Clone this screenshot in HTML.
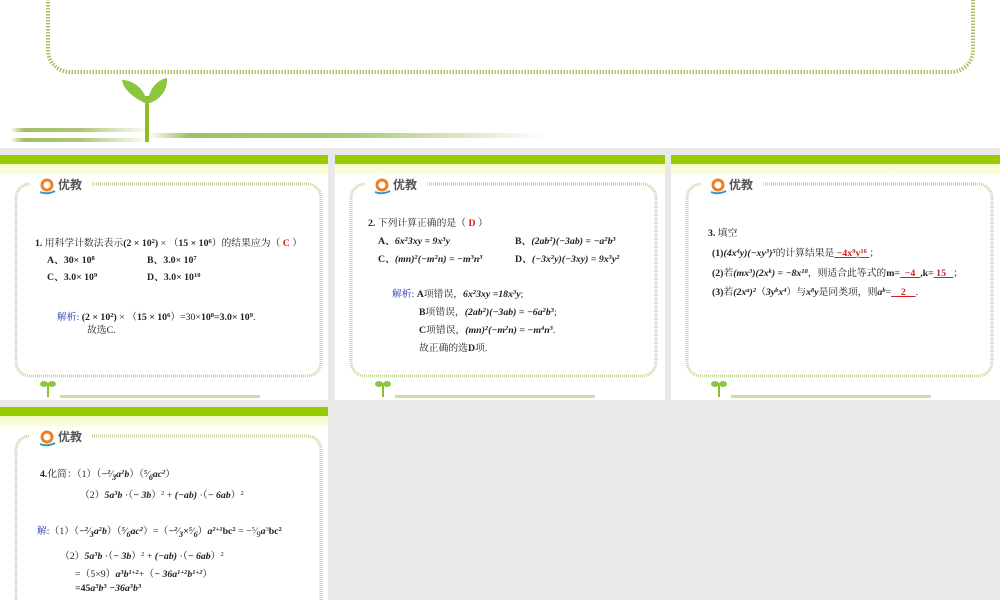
<!DOCTYPE html>
<html><head><meta charset="utf-8"><style>
*{margin:0;padding:0;box-sizing:border-box}
body{width:1000px;height:600px;background:#e9e9e9;position:relative;overflow:hidden;font-family:"Liberation Serif","Noto Serif CJK SC",serif;font-size:9.8px;color:#222}
.a{position:absolute;white-space:nowrap}
.p{position:absolute;background:#fff;overflow:hidden}
.g{position:absolute;left:0;right:0;top:0;height:9px;background:#99cc00}
.y{position:absolute;left:0;right:0;top:9px;height:11px;background:linear-gradient(#f4fbc8,#fbfde6)}
b{font-weight:bold}
i{font-style:italic;font-weight:bold}
.r{color:#d02020;font-weight:bold}
.bl{color:#2233aa}
.u{text-decoration:underline;color:#d02020;font-weight:bold}
sup{font-size:6.5px;vertical-align:3px;line-height:0}
.logo{position:absolute;font-family:"Noto Sans CJK SC",sans-serif;font-size:12px;color:#555;font-weight:bold}
</style></head><body>
<div class="p" style="left:0;top:0;width:1000px;height:148px;">
<svg width="1000" height="148" style="position:absolute;left:0;top:0">
<defs><linearGradient id="lg" x1="0" x2="1"><stop offset="0" stop-color="#8ab040" stop-opacity="0"/><stop offset="0.1" stop-color="#8ab040" stop-opacity="0.8"/><stop offset="0.5" stop-color="#8ab040" stop-opacity="0.7"/><stop offset="1" stop-color="#8ab040" stop-opacity="0"/></linearGradient></defs>
<rect x="48" y="-40" width="925" height="112" rx="22" fill="none" stroke="#a8c060" stroke-width="4" stroke-dasharray="1.5 1.5"/>
<rect x="10" y="128" width="140" height="4" fill="url(#lg)"/>
<rect x="10" y="138" width="140" height="4" fill="url(#lg)"/>
<rect x="148" y="133" width="400" height="5" fill="url(#lg)"/>
<rect x="145" y="96" width="4" height="46" fill="#8cbf26"/>
<path d="M147 104 C138 100 124 92 122 80 C134 80 146 90 147 104Z" fill="#8cc63e"/>
<path d="M147 104 C149 90 156 80 167 78 C168 92 158 101 147 104Z" fill="#8cc63e"/>
</svg></div>

<div class="p" style="left:0;top:155px;width:328px;height:245px">
<div class="g"></div><div class="y"></div>
<svg width="328" height="245" style="position:absolute;left:0;top:0"><rect x="16" y="29" width="305" height="192" rx="14" fill="none" stroke="#c7d59a" stroke-width="3" stroke-dasharray="1 1"/><rect x="30" y="22" width="62" height="14" fill="#fff"/><circle cx="47" cy="30" r="5" fill="none" stroke="#f08020" stroke-width="3"/><path d="M40 37 Q47 40 55 36" stroke="#3399cc" stroke-width="2" fill="none"/>
<rect x="60" y="240" width="200" height="3" fill="#a5c860" opacity="0.6"/><rect x="47" y="228" width="2" height="14" fill="#8cbf26"/><ellipse cx="44" cy="229" rx="4" ry="3" fill="#8cc63e"/><ellipse cx="52" cy="229" rx="4" ry="3" fill="#8cc63e"/></svg>
<div class="logo" style="left:58px;top:21px">优教</div>
<div class="a" style="left:35px;top:80px"><b>1.</b> 用科学计数法表示<b>(2 × 10<sup>2</sup>)</b> × （<b>15 × 10<sup>6</sup></b>）的结果应为（ <span class="r">C</span> ）</div>
<div class="a" style="left:47px;top:97px"><b>A、30× 10<sup>8</sup></b></div>
<div class="a" style="left:147px;top:97px"><b>B、3.0× 10<sup>7</sup></b></div>
<div class="a" style="left:47px;top:114px"><b>C、3.0× 10<sup>9</sup></b></div>
<div class="a" style="left:147px;top:114px"><b>D、3.0× 10<sup>10</sup></b></div>
<div class="a" style="left:57px;top:154px"><span class="bl">解析:</span> <b>(2 × 10<sup>2</sup>)</b> × （<b>15 × 10<sup>6</sup></b>）=30×<b>10<sup>8</sup>=3.0× 10<sup>9</sup></b>.</div>
<div class="a" style="left:87px;top:167px">故选C.</div>
</div>

<div class="p" style="left:335px;top:155px;width:330px;height:245px">
<div class="g"></div><div class="y"></div>
<svg width="330" height="245" style="position:absolute;left:0;top:0"><rect x="16" y="29" width="305" height="192" rx="14" fill="none" stroke="#c7d59a" stroke-width="3" stroke-dasharray="1 1"/><rect x="30" y="22" width="62" height="14" fill="#fff"/><circle cx="47" cy="30" r="5" fill="none" stroke="#f08020" stroke-width="3"/><path d="M40 37 Q47 40 55 36" stroke="#3399cc" stroke-width="2" fill="none"/>
<rect x="60" y="240" width="200" height="3" fill="#a5c860" opacity="0.6"/><rect x="47" y="228" width="2" height="14" fill="#8cbf26"/><ellipse cx="44" cy="229" rx="4" ry="3" fill="#8cc63e"/><ellipse cx="52" cy="229" rx="4" ry="3" fill="#8cc63e"/></svg>
<div class="logo" style="left:58px;top:21px">优教</div>
<div class="a" style="left:33px;top:60px"><b>2.</b> 下列计算正确的是（ <span class="r">D</span> ）</div>
<div class="a" style="left:43px;top:78px"><b>A、</b><i>6x<sup>2</sup>3xy = 9x<sup>3</sup>y</i></div>
<div class="a" style="left:180px;top:78px"><b>B、</b><i>(2ab<sup>2</sup>)(−3ab) = −a<sup>2</sup>b<sup>3</sup></i></div>
<div class="a" style="left:43px;top:96px"><b>C、</b><i>(mn)<sup>2</sup>(−m<sup>2</sup>n) = −m<sup>3</sup>n<sup>3</sup></i></div>
<div class="a" style="left:180px;top:96px"><b>D、</b><i>(−3x<sup>2</sup>y)(−3xy) = 9x<sup>3</sup>y<sup>2</sup></i></div>
<div class="a" style="left:57px;top:131px"><span class="bl">解析:</span> <b>A</b>项错误，<i>6x<sup>2</sup>3xy =18x<sup>3</sup>y</i>;</div>
<div class="a" style="left:84px;top:149px"><b>B</b>项错误，<i>(2ab<sup>2</sup>)(−3ab) = −6a<sup>2</sup>b<sup>3</sup></i>;</div>
<div class="a" style="left:84px;top:167px"><b>C</b>项错误，<i>(mn)<sup>2</sup>(−m<sup>2</sup>n) = −m<sup>4</sup>n<sup>3</sup></i>.</div>
<div class="a" style="left:84px;top:185px">故正确的选<b>D</b>项.</div>
</div>

<div class="p" style="left:671px;top:155px;width:329px;height:245px">
<div class="g"></div><div class="y"></div>
<svg width="329" height="245" style="position:absolute;left:0;top:0"><rect x="16" y="29" width="305" height="192" rx="14" fill="none" stroke="#c7d59a" stroke-width="3" stroke-dasharray="1 1"/><rect x="30" y="22" width="62" height="14" fill="#fff"/><circle cx="47" cy="30" r="5" fill="none" stroke="#f08020" stroke-width="3"/><path d="M40 37 Q47 40 55 36" stroke="#3399cc" stroke-width="2" fill="none"/>
<rect x="60" y="240" width="200" height="3" fill="#a5c860" opacity="0.6"/><rect x="47" y="228" width="2" height="14" fill="#8cbf26"/><ellipse cx="44" cy="229" rx="4" ry="3" fill="#8cc63e"/><ellipse cx="52" cy="229" rx="4" ry="3" fill="#8cc63e"/></svg>
<div class="logo" style="left:58px;top:21px">优教</div>
<div class="a" style="left:37px;top:70px"><b>3.</b> 填空</div>
<div class="a" style="left:41px;top:90px"><b>(1)</b><i>(4x<sup>4</sup>y)(−xy<sup>3</sup>)<sup>5</sup></i>的计算结果是<span class="u">&nbsp;−4x<sup>9</sup>y<sup>16</sup>&nbsp;</span>；</div>
<div class="a" style="left:41px;top:110px"><b>(2)</b>若<i>(mx<sup>3</sup>)(2x<sup>k</sup>) = −8x<sup>18</sup></i>，则适合此等式的<b>m=</b><span class="u">&nbsp;&nbsp;−4&nbsp;&nbsp;</span><b>,k=</b><span class="u">&nbsp;15&nbsp;&nbsp;&nbsp;</span>；</div>
<div class="a" style="left:41px;top:129px"><b>(3)</b>若<i>(2x<sup>a</sup>)<sup>2</sup></i>（<i>3y<sup>b</sup>x<sup>4</sup></i>）与<i>x<sup>8</sup>y</i>是同类项，则<i>a<sup>b</sup></i>=<span class="u">&nbsp;&nbsp;&nbsp;&nbsp;2&nbsp;&nbsp;&nbsp;&nbsp;</span>.</div>
</div>

<div class="p" style="left:0;top:407px;width:328px;height:193px">
<div class="g"></div><div class="y"></div>
<svg width="328" height="200" style="position:absolute;left:0;top:0"><rect x="16" y="29" width="305" height="192" rx="14" fill="none" stroke="#c7d59a" stroke-width="3" stroke-dasharray="1 1"/><rect x="30" y="22" width="62" height="14" fill="#fff"/><circle cx="47" cy="30" r="5" fill="none" stroke="#f08020" stroke-width="3"/><path d="M40 37 Q47 40 55 36" stroke="#3399cc" stroke-width="2" fill="none"/></svg>
<div class="logo" style="left:58px;top:21px">优教</div>
<div class="a" style="left:40px;top:59px"><b>4.</b>化简：（1）（<i>−<sup>2</sup>⁄<sub>3</sub>a<sup>2</sup>b</i>）（<i><sup>5</sup>⁄<sub>6</sub>ac<sup>2</sup></i>）</div>
<div class="a" style="left:80px;top:80px">（2）<i>5a<sup>3</sup>b</i> ·（<i>− 3b</i>）<sup>2</sup> + <i>(−ab)</i> ·（<i>− 6ab</i>）<sup>2</sup></div>
<div class="a" style="left:37px;top:116px"><span class="bl">解:</span>（1）（<i>−<sup>2</sup>⁄<sub>3</sub>a<sup>2</sup>b</i>）（<i><sup>5</sup>⁄<sub>6</sub>ac<sup>2</sup></i>）=（<i>−<sup>2</sup>⁄<sub>3</sub>×<sup>5</sup>⁄<sub>6</sub></i>）<i>a<sup>2+1</sup></i><b>bc<sup>2</sup></b> = −<sup>5</sup>⁄<sub>9</sub><i>a</i><sup>3</sup><b>bc<sup>2</sup></b></div>
<div class="a" style="left:60px;top:141px">（2）<i>5a<sup>3</sup>b</i> ·（<i>− 3b</i>）<sup>2</sup> + <i>(−ab)</i> ·（<i>− 6ab</i>）<sup>2</sup></div>
<div class="a" style="left:75px;top:159px">=（5×9）<i>a<sup>3</sup>b<sup>1+2</sup></i>+（<i>− 36a<sup>1+2</sup>b<sup>1+2</sup></i>）</div>
<div class="a" style="left:75px;top:176px"><b>=45</b><i>a<sup>3</sup>b<sup>3</sup> −36a<sup>3</sup>b<sup>3</sup></i></div>
</div>
</body></html>
